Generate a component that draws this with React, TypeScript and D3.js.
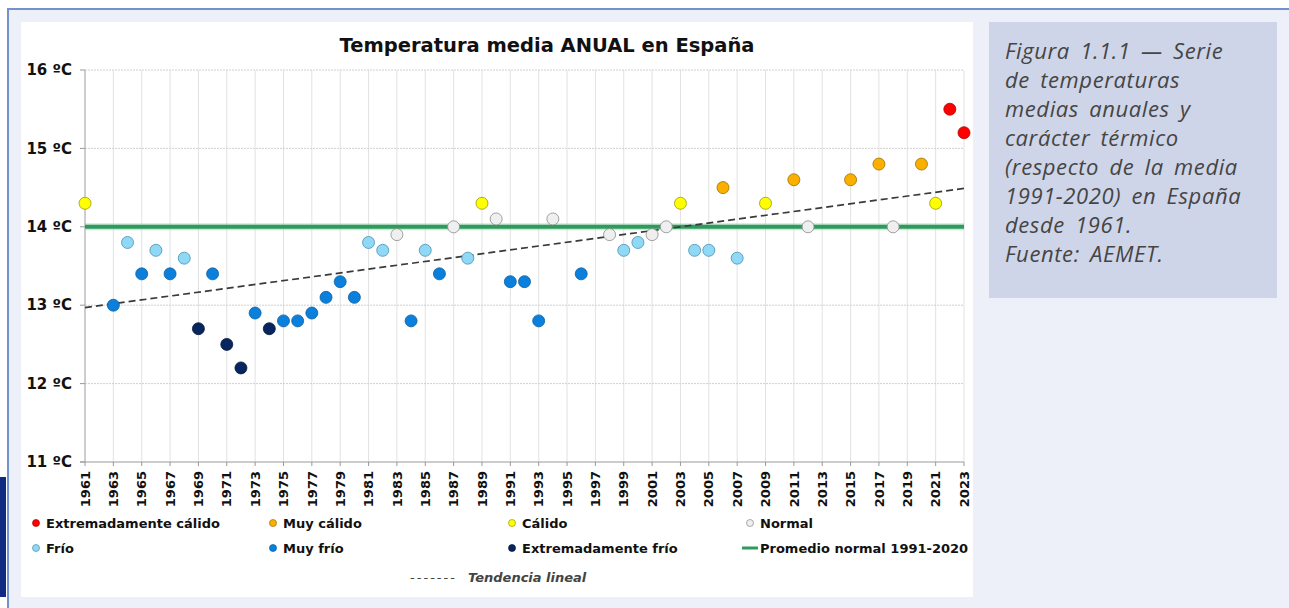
import React from "react";
import * as d3 from "d3";

// años con dato visible en la figura
const years = [
  1961, 1963, 1964, 1965, 1966, 1967, 1968, 1969, 1970, 1971, 1972, 1973, 1974,
  1975, 1976, 1977, 1978, 1979, 1980, 1981, 1982, 1983, 1984, 1985, 1986, 1987,
  1988, 1989, 1990, 1991, 1992, 1993, 1994, 1996, 1998, 1999, 2000, 2001, 2002,
  2003, 2004, 2005, 2006, 2007, 2009, 2011, 2012, 2015, 2017, 2018, 2020, 2021,
  2022, 2023,
];
const temps = [
  14.3, 13.0, 13.8, 13.4, 13.7, 13.4, 13.6, 12.7, 13.4, 12.5, 12.2, 12.9, 12.7,
  12.8, 12.8, 12.9, 13.1, 13.3, 13.1, 13.8, 13.7, 13.9, 12.8, 13.7, 13.4, 14.0,
  13.6, 14.3, 14.1, 13.3, 13.3, 12.8, 14.1, 13.4, 13.9, 13.7, 13.8, 13.9, 14.0,
  14.3, 13.7, 13.7, 14.5, 13.6, 14.3, 14.6, 14.0, 14.6, 14.8, 14.0, 14.8, 14.3,
  15.5, 15.2,
];
// carácter térmico
const caracter = [
  "C", "MF", "F", "MF", "F", "MF", "F", "EF", "MF", "EF", "EF", "MF", "EF",
  "MF", "MF", "MF", "MF", "MF", "MF", "F", "F", "N", "MF", "F", "MF", "N",
  "F", "C", "N", "MF", "MF", "MF", "N", "MF", "N", "F", "F", "N", "N",
  "C", "F", "F", "MC", "F", "C", "MC", "N", "MC", "MC", "N", "MC", "C",
  "EC", "EC",
];

const tickYears = [
  1961, 1963, 1965, 1967, 1969, 1971, 1973, 1975, 1977, 1979, 1981, 1983, 1985,
  1987, 1989, 1991, 1993, 1995, 1997, 1999, 2001, 2003, 2005, 2007, 2009, 2011,
  2013, 2015, 2017, 2019, 2021, 2023,
];
const tempTicks = [11, 12, 13, 14, 15, 16];

const normalValue = 14.0;
const trendValues = [12.97, 14.49]; // 1961 -> 2023

const legendKeys = ["EC", "MC", "C", "N", "F", "MF", "EF"];
const legendLabels = [
  "Extremadamente cálido",
  "Muy cálido",
  "Cálido",
  "Normal",
  "Frío",
  "Muy frío",
  "Extremadamente frío",
];

const captionLines = [
  "Figura 1.1.1 — Serie",
  "de temperaturas",
  "medias anuales y",
  "carácter térmico",
  "(respecto de la media",
  "1991-2020) en España",
  "desde 1961.",
  "Fuente: AEMET.",
];

const fills = {
  EC: "#ff0000",
  MC: "#fbb000",
  C: "#ffff00",
  N: "#efefef",
  F: "#8fd9f6",
  MF: "#0a7fdc",
  EF: "#07255f",
};
const strokes = {
  EC: "#b00000",
  MC: "#9a7000",
  C: "#9a9a00",
  N: "#8a8a8a",
  F: "#4a8fb0",
  MF: "#0b5fa0",
  EF: "#041838",
};

const FONT = "'DejaVu Sans', Verdana, sans-serif";

const App = () => {
  const x = d3.scaleLinear().domain([1961, 2023]).range([85, 964]);
  const y = d3.scaleLinear().domain([11, 16]).range([462, 70]);

  const trend = d3
    .line<number>()
    .x((_, i) => x(i === 0 ? 1961 : 2023))
    .y((d) => y(d));

  // legend layout
  const colX = [36, 273, 512, 750];
  const rowY = [523, 548];

  return (
    <svg
      width={1289}
      height={608}
      style={{ position: "absolute", left: 0, top: 0 }}
      fontFamily={FONT}
    >
      <rect width={1289} height={608} fill="#ffffff" />
      <rect x={7} y={8} width={1282} height={600} fill="#eef0f9" />
      <line x1={7} x2={1289} y1={9} y2={9} stroke="#7291cf" strokeWidth={2} />
      <line x1={8} x2={8} y1={8} y2={608} stroke="#7291cf" strokeWidth={2} />
      <rect x={0} y={477} width={6} height={120} fill="#102a82" />

      {/* panel del gráfico */}
      <rect x={21} y={22} width={952} height={575} fill="#ffffff" />

      {/* caption */}
      <rect x={989} y={22} width={288} height={276} fill="#cfd5e8" />
      {captionLines.map((t, i) => (
        <text
          key={i}
          x={1005}
          y={59 + i * 29}
          fontFamily="'Open Sans', Lato, sans-serif"
          fontStyle="italic"
          fontSize={22}
          fill="#454545"
          style={{ wordSpacing: "4px", letterSpacing: "0.6px" }}
        >
          {t}
        </text>
      ))}

      <text
        x={547}
        y={52}
        textAnchor="middle"
        fontWeight="bold"
        fontSize={19.5}
        fill="#111"
      >
        Temperatura media ANUAL en España
      </text>

      {/* grid */}
      {tickYears.map((yr) => (
        <line
          key={yr}
          x1={x(yr)}
          x2={x(yr)}
          y1={y(16)}
          y2={y(11)}
          stroke="#e2e2e2"
          strokeWidth={1}
        />
      ))}
      {tempTicks.map((t) => (
        <g key={t}>
          {t > 11 && (
            <line
              x1={x(1961)}
              x2={x(2023)}
              y1={y(t)}
              y2={y(t)}
              stroke="#d0d0d0"
              strokeDasharray="2,1"
            />
          )}
          <line x1={80} x2={85} y1={y(t)} y2={y(t)} stroke="#999" />
          <text
            x={72}
            y={y(t)}
            dy="0.35em"
            textAnchor="end"
            fontWeight="bold"
            fontSize={15}
            fill="#111"
          >
            {t} ºC
          </text>
        </g>
      ))}
      <line x1={x(1961)} x2={x(1961)} y1={y(16)} y2={y(11)} stroke="#aaa" />
      <line x1={80} x2={x(2023)} y1={y(11)} y2={y(11)} stroke="#999" />
      {tickYears.map((yr) => (
        <g key={yr}>
          <line x1={x(yr)} x2={x(yr)} y1={y(11)} y2={y(11) + 4} stroke="#999" />
          <text
            transform={`translate(${x(yr)},${y(11) + 9}) rotate(-90)`}
            dy="0.36em"
            textAnchor="end"
            fontWeight="bold"
            fontSize={13}
            fill="#111"
          >
            {yr}
          </text>
        </g>
      ))}

      {/* promedio normal */}
      <line
        x1={x(1961)}
        x2={x(2023)}
        y1={y(normalValue)}
        y2={y(normalValue)}
        stroke="#9fd4b2"
        strokeWidth={7}
        opacity={0.5}
      />
      <line
        x1={x(1961)}
        x2={x(2023)}
        y1={y(normalValue)}
        y2={y(normalValue)}
        stroke="#2e9a5c"
        strokeWidth={4}
      />

      {/* tendencia */}
      <path
        d={trend(trendValues) || ""}
        fill="none"
        stroke="#3a3a3a"
        strokeWidth={1.7}
        strokeDasharray="7,4"
      />

      {years.map((yr, i) => (
        <circle
          key={yr}
          cx={x(yr)}
          cy={y(temps[i])}
          r={6}
          fill={fills[caracter[i]]}
          stroke={strokes[caracter[i]]}
          strokeWidth={0.8}
        />
      ))}

      {/* leyenda */}
      {legendKeys.map((k, i) => {
        const lx = colX[i % 4];
        const ly = rowY[Math.floor(i / 4)];
        return (
          <g key={k}>
            <circle
              cx={lx}
              cy={ly}
              r={3.5}
              fill={fills[k]}
              stroke={strokes[k]}
              strokeWidth={0.7}
            />
            <text
              x={lx + 10}
              y={ly}
              dy="0.36em"
              fontWeight="bold"
              fontSize={13}
              fill="#111"
            >
              {legendLabels[i]}
            </text>
          </g>
        );
      })}
      <line
        x1={742}
        x2={758}
        y1={rowY[1]}
        y2={rowY[1]}
        stroke="#2e9a5c"
        strokeWidth={3}
      />
      <text
        x={760}
        y={rowY[1]}
        dy="0.36em"
        fontWeight="bold"
        fontSize={13}
        fill="#111"
      >
        Promedio normal 1991-2020
      </text>
      <text
        x={410}
        y={577}
        dy="0.36em"
        fontSize={13}
        fill="#444"
        textLength={45}
        lengthAdjust="spacing"
      >
        -------
      </text>
      <text
        x={468}
        y={577}
        dy="0.36em"
        fontWeight="bold"
        fontStyle="italic"
        fontSize={13}
        fill="#444"
      >
        Tendencia lineal
      </text>
    </svg>
  );
};

export default App;
